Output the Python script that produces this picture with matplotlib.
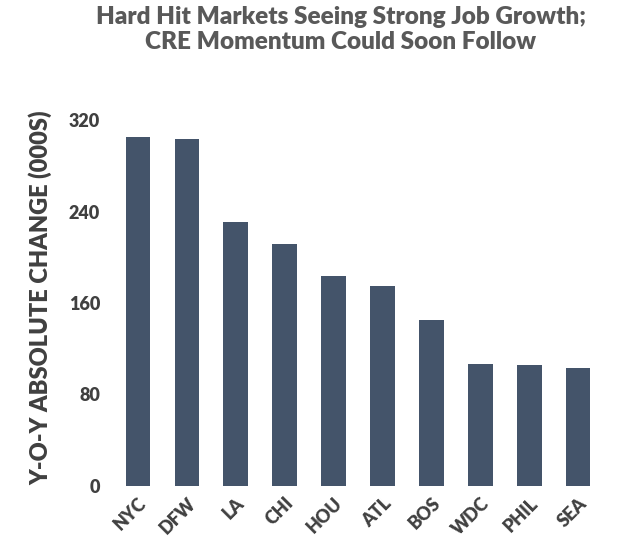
import matplotlib
matplotlib.use("Agg")
import matplotlib.pyplot as plt

markets = ["NYC", "DFW", "LA", "CHI", "HOU", "ATL", "BOS", "WDC", "PHIL", "SEA"]
values = [305, 303, 231, 212, 184, 175, 145, 107, 106, 103]
yticks = [0, 80, 160, 240, 320]

plt.rcParams['font.family'] = ['Lato', 'DejaVu Sans']
fig = plt.figure(figsize=(6.2, 5.57), dpi=100)
ax = fig.add_axes([0.175, 0.1275, 0.805, 0.6775])
ax.bar(range(len(markets)), values, width=0.5, color="#44546A")
ax.set_ylim(0, 330)
ax.set_xlim(-0.6, len(markets) - 0.4)
ax.set_yticks(yticks)
ax.set_yticklabels([str(t) for t in yticks], fontsize=13, fontweight='heavy', color="#404040")
ax.set_xticks(range(len(markets)))
ax.set_xticklabels(markets, rotation=45, ha='right', rotation_mode='anchor',
                   fontsize=13, fontweight='heavy', color="#404040")
for s in ax.spines.values():
    s.set_visible(False)
ax.tick_params(length=0, pad=6)
ax.set_ylabel("Y-O-Y ABSOLUTE CHANGE (000S)", fontsize=17, fontweight='heavy',
              color="#404040", labelpad=12)
fig.suptitle("Hard Hit Markets Seeing Strong Job Growth;\nCRE Momentum Could Soon Follow",
             x=0.55, y=0.99, fontsize=17.5, fontweight='heavy', color="#595959", linespacing=1.2)
fig.savefig("out.png", dpi=100)
